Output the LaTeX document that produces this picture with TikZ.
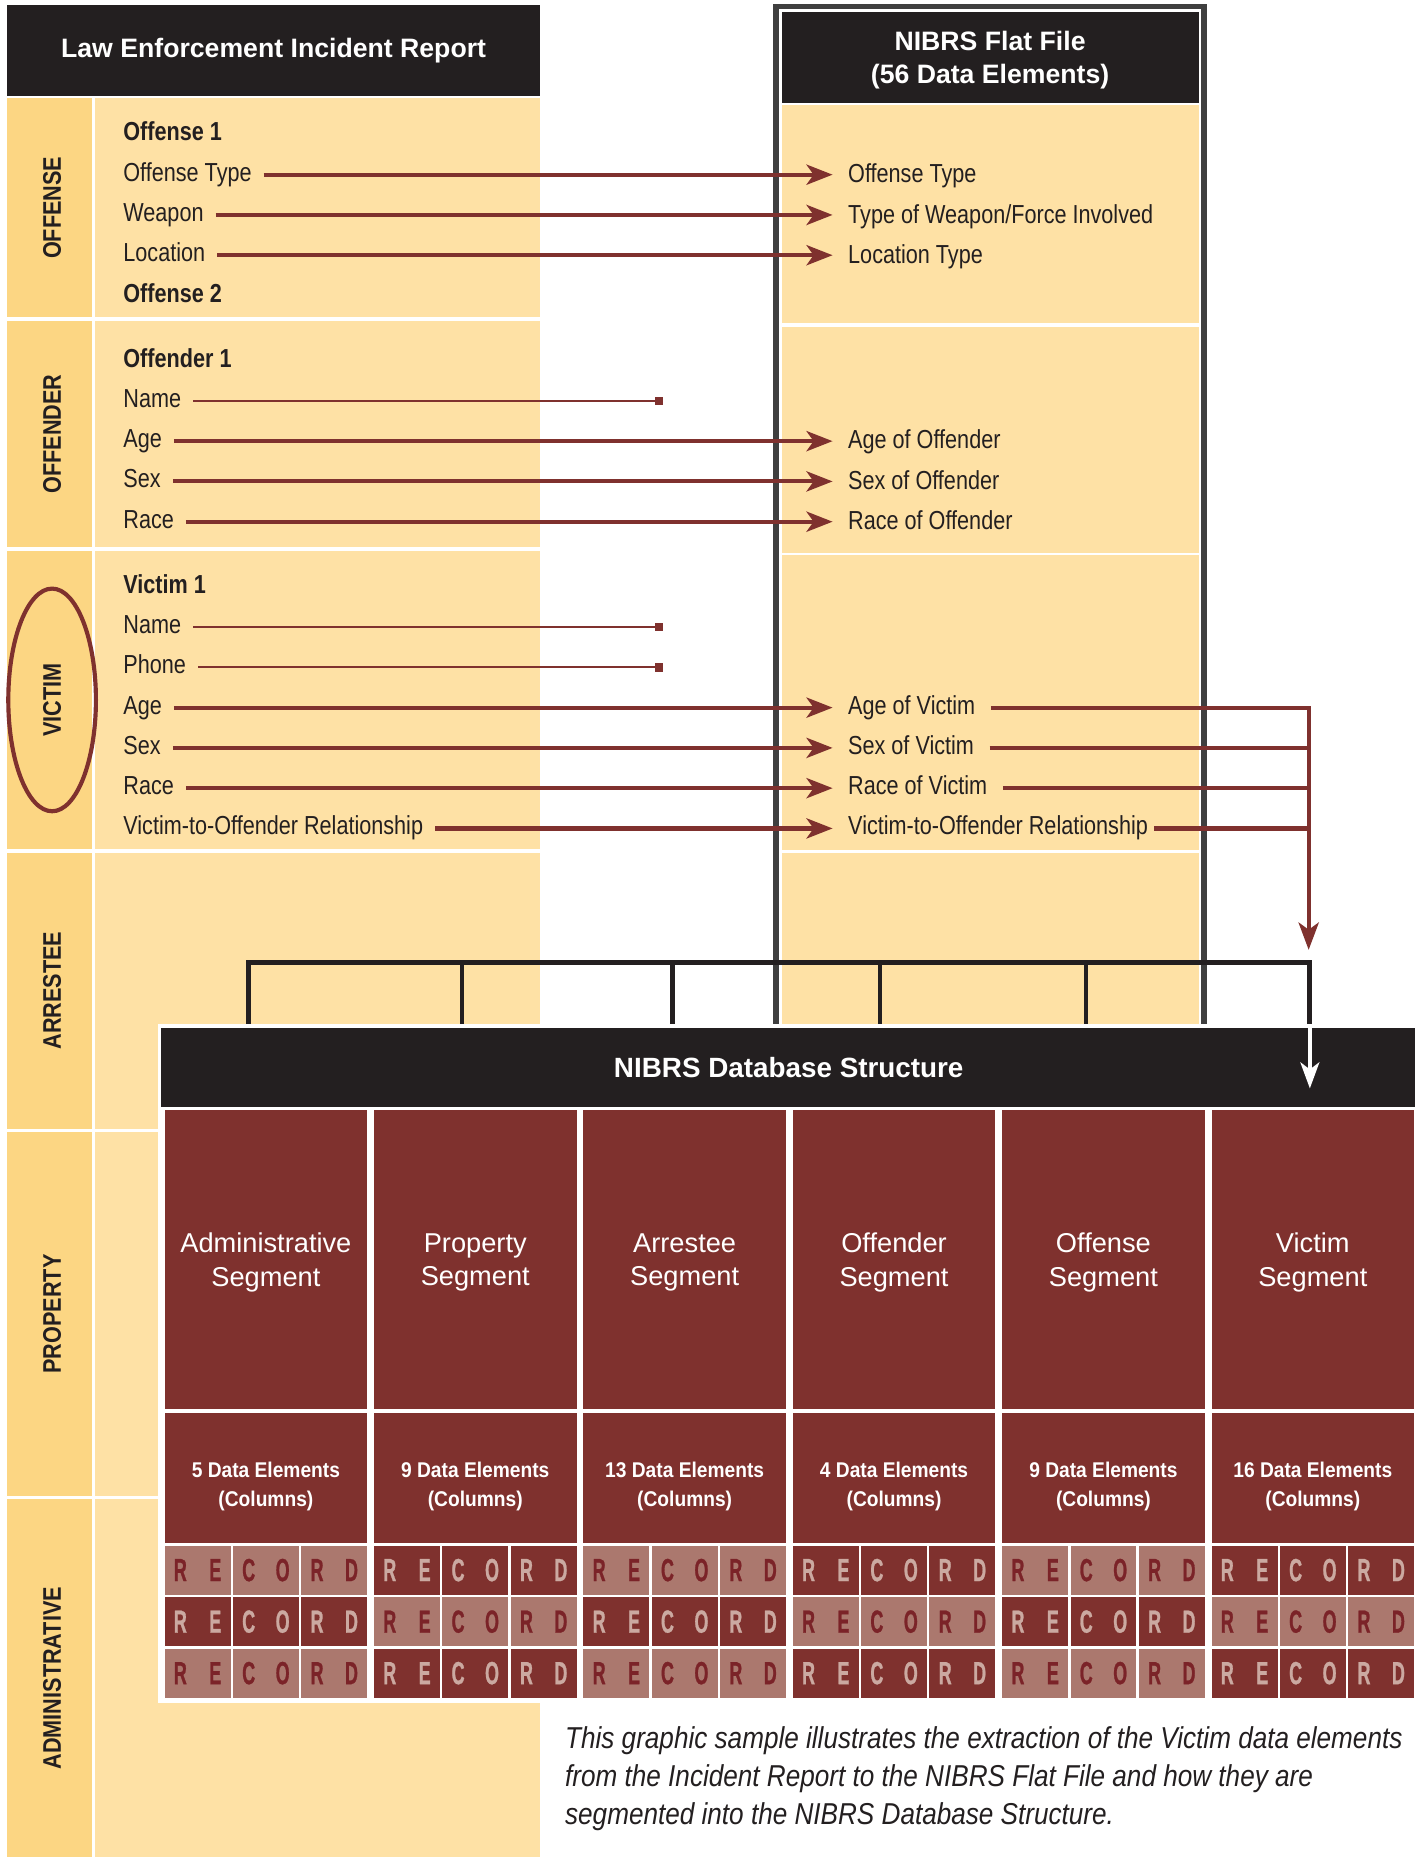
\documentclass[tikz,border=0pt]{standalone}
\usepackage{fontspec}
\setmainfont{Liberation Sans}
\newfontfamily\condfont[FakeStretch=0.83]{Liberation Sans}
\newfontfamily\bandfont[FakeStretch=0.85]{Liberation Sans}
\newfontfamily\colsfont[FakeStretch=0.9]{Liberation Sans}
\newfontfamily\recfont[FakeStretch=0.56, FakeBold=0.8]{Liberation Sans Bold}
\newfontfamily\notefont[FakeStretch=0.865]{Liberation Sans}
\usetikzlibrary{arrows.meta}

\definecolor{nibrsblack}{HTML}{231F20}
\definecolor{nibrsred}{HTML}{7F312E}
\definecolor{recpink}{HTML}{AB786E}
\definecolor{recink}{HTML}{7B2328}
\definecolor{recpale}{HTML}{CBA9A1}
\definecolor{bandgold}{HTML}{FCD683}
\definecolor{bandcream}{HTML}{FEE1A5}
\definecolor{framegray}{HTML}{3F3F3F}

\newcommand\recordcell{}
\def\recordcell#1#2#3#4{
  \fill[#1] (0,0) rectangle (55.7,41.5);
  \node[reclet, text=#2] (#4) at (27.85,20.75) {\makebox[40pt]{#3}};
}

\begin{document}
\begin{tikzpicture}[x=1pt, y=-1pt, line join=miter,
  headtext/.style={text=white, align=center, inner sep=0pt, font=\bfseries\fontsize{22.5}{28}\selectfont},
  bandlabel/.style={rotate=90, text=nibrsblack, font=\bandfont\bfseries\fontsize{21.5}{24}\selectfont},
  itemtext/.style={anchor=west, inner xsep=10pt, inner ysep=0pt, text height=16pt, text depth=5pt, text=nibrsblack, font=\condfont\fontsize{22}{26}\selectfont},
  itemhead/.style={itemtext, font=\condfont\bfseries\fontsize{22}{26}\selectfont},
  flattext/.style={itemtext, inner xsep=13pt},
  feedarrow/.style={draw=nibrsred, line width=3.5pt, -{Stealth[length=22pt, width=17pt, inset=6pt]}},
  busline/.style={draw=nibrsred, line width=3.5pt},
  blindline/.style={draw=nibrsred, line width=1.8pt, -{Square[length=7pt, width=7pt]}},
  treeline/.style={draw=nibrsblack, line width=4pt},
  whitearrow/.style={draw=white, line width=3pt, -{Stealth[length=22pt, width=16pt, inset=6pt]}},
  dbtext/.style={text=white, inner sep=0pt, font=\bfseries\fontsize{23.5}{28}\selectfont},
  segname/.style={text=white, align=center, inner sep=0pt, font=\fontsize{23}{28}\selectfont},
  segcols/.style={text=white, align=center, inner sep=0pt, font=\colsfont\bfseries\fontsize{18}{24}\selectfont},
  reclet/.style={inner sep=0pt, font=\recfont\fontsize{27}{28}\selectfont},
  notetext/.style={anchor=north west, inner sep=0pt, align=left, text=nibrsblack, font=\notefont\itshape\fontsize{25.5}{32}\selectfont}
]
\useasboundingbox (0,0) rectangle (1200,1568);
\fill[white] (0,0) rectangle (1200,1568);

% Law Enforcement Incident Report
\fill[nibrsblack] (6,4) rectangle (456,81);
\node[headtext] (lawhead) at (231,43) {Law Enforcement Incident Report};

\foreach \ya/\yb/\lab [count=\xi] in
{
  83/268/OFFENSE, 271/462/OFFENDER, 465/717/VICTIM,
  720/953/ARRESTEE, 956/1263/PROPERTY, 1266/1568/ADMINISTRATIVE}
{
  \fill[bandgold] (6,\ya) rectangle (78,\yb);
  \fill[bandcream] (80,\ya) rectangle (456,\yb);
  \node[bandlabel] (band\xi) at (44,{(\ya+\yb)/2}) {\lab};
}
\draw[nibrsred, line width=3.5pt] (band3.center) ellipse [x radius=37pt, y radius=94pt];

% NIBRS Flat File
\fill[framegray] (653,3) rectangle (1019,868);
\fill[white] (658,8) rectangle (1014,868);
\fill[nibrsblack] (660,10) rectangle (1012,87);
\node[headtext] (flathead) at (836,51) {NIBRS Flat File\\(56 Data Elements)};
\foreach \ya/\yb in {89/273, 276/467, 469/718, 720/868}
  \fill[bandcream] (660,\ya) rectangle (1012,\yb);

% Offense
\node[itemhead] (off1) at (94,113.5) {Offense 1};
\foreach \lab/\flat [count=\xi] in
{
  Offense Type/Offense Type, Weapon/{Type of Weapon/Force Involved}, Location/Location Type}
{
  \node[itemtext] (offL\xi) at (94,{113.5+34*\xi}) {\lab};
  \node[flattext] (offR\xi) at (703,{115+34*\xi}) {\flat};
  \draw[feedarrow] (offL\xi.east) -- (offL\xi.east -| offR\xi.west);
}
\node[itemhead] (off2) at (94,249.5) {Offense 2};

% Offender
\node[itemhead] (ofd1) at (94,304.5) {Offender 1};
\node[itemtext] (ofdL1) at (94,338.5) {Name};
\coordinate (ofdStop1) at (560,338.5);
\draw[blindline] (ofdL1.east) -- (ofdStop1);
\foreach \lab/\flat [count=\xi from 2] in
{
  Age/Age of Offender, Sex/Sex of Offender, Race/Race of Offender}
{
  \node[itemtext] (ofdL\xi) at (94,{304.5+34*\xi}) {\lab};
  \node[flattext] (ofdR\xi) at (703,{305.5+34*\xi}) {\flat};
  \draw[feedarrow] (ofdL\xi.east) -- (ofdL\xi.east -| ofdR\xi.west);
}

% Victim
\node[itemhead] (vic1) at (94,495.5) {Victim 1};
\foreach \lab [count=\xi] in {Name, Phone}
{
  \node[itemtext] (vicL\xi) at (94,{495.5+34*\xi}) {\lab};
  \coordinate (vicStop\xi) at (560,{495.5+34*\xi});
  \draw[blindline] (vicL\xi.east) -- (vicStop\xi);
}
\foreach \lab/\flat [count=\xi from 3] in
{
  Age/Age of Victim, Sex/Sex of Victim, Race/Race of Victim,
  Victim-to-Offender Relationship/Victim-to-Offender Relationship}
{
  \node[itemtext] (vicL\xi) at (94,{495.5+34*\xi}) {\lab};
  \node[flattext] (vicR\xi) at (703,{495.5+34*\xi}) {\flat};
  \draw[feedarrow] (vicL\xi.east) -- (vicR\xi.west);
}

% Victim elements go on to the database
\coordinate (vicBus) at (1105,802);
\draw[feedarrow, -{Stealth[length=23pt, width=17pt, inset=6pt]}] (vicR3.east) -| (vicBus);
\foreach \xi in {4,5}
  \draw[busline] (vicR\xi.east) -- (vicR\xi.east -| vicBus);
\draw[busline] ([xshift=-8pt]vicR6.east) -- (vicR6.east -| vicBus);

% Segment tree
\coordinate (busL) at (210,813);
\coordinate (busR) at (1106,813);
\draw[treeline] (210,868) -- (busL) -- (busR) -- (1106,868);
\foreach \xx in {390,568,743,917}
  \draw[treeline] (\xx,813) -- (\xx,868);

% NIBRS Database Structure
\fill[white] (133,865) rectangle (1198,1438);
\fill[nibrsblack] (136,868) rectangle (1195,935);
\node[dbtext] (dbhead) at (666,901.5) {NIBRS Database Structure};
\coordinate (dbIn) at (1106,868);
\coordinate (dbTip) at (1106,919);
\draw[whitearrow] (dbIn) -- (dbTip);

\foreach \seg/\cnt [count=\xi] in
{
  Administrative/5, Property/9, Arrestee/13, Offender/4, Offense/9, Victim/16}
{
  \pgfmathsetmacro\segx{139+176.8*(\xi-1)}
  \fill[nibrsred] (\segx,937) rectangle ({\segx+171},1190);
  \fill[nibrsred] (\segx,1193) rectangle ({\segx+171},1303);
  \node[segname] (seg\xi) at ({\segx+85.5},1066) {\seg\\Segment};
  \node[segcols] (cols\xi) at ({\segx+85.5},1255) {\cnt~Data Elements\\(Columns)};
  \foreach \row in {1,2,3}
  {
    \pgfmathtruncatemacro\cellshade{mod(\xi+\row,2)}
    \ifnum\cellshade=0 \def\cellfill{recpink}\def\cellink{recink}\else \def\cellfill{nibrsred}\def\cellink{recpale}\fi
    \foreach \pair [count=\cc] in {R\hfill E, C\hfill O, R\hfill D}
    {
      \begin{scope}[shift={({\segx+57.7*(\cc-1)},{1305+43.5*(\row-1)})}]
        \recordcell{\cellfill}{\cellink}{\pair}{rec-\xi-\row-\cc}
      \end{scope}
    }
  }
}

% Caption
\node[notetext] (caption) at (477,1458)
  {This graphic sample illustrates the extraction of the Victim data elements\\
   from the Incident Report to the NIBRS Flat File and how they are\\
   segmented into the NIBRS Database Structure.};

\end{tikzpicture}
\end{document}
